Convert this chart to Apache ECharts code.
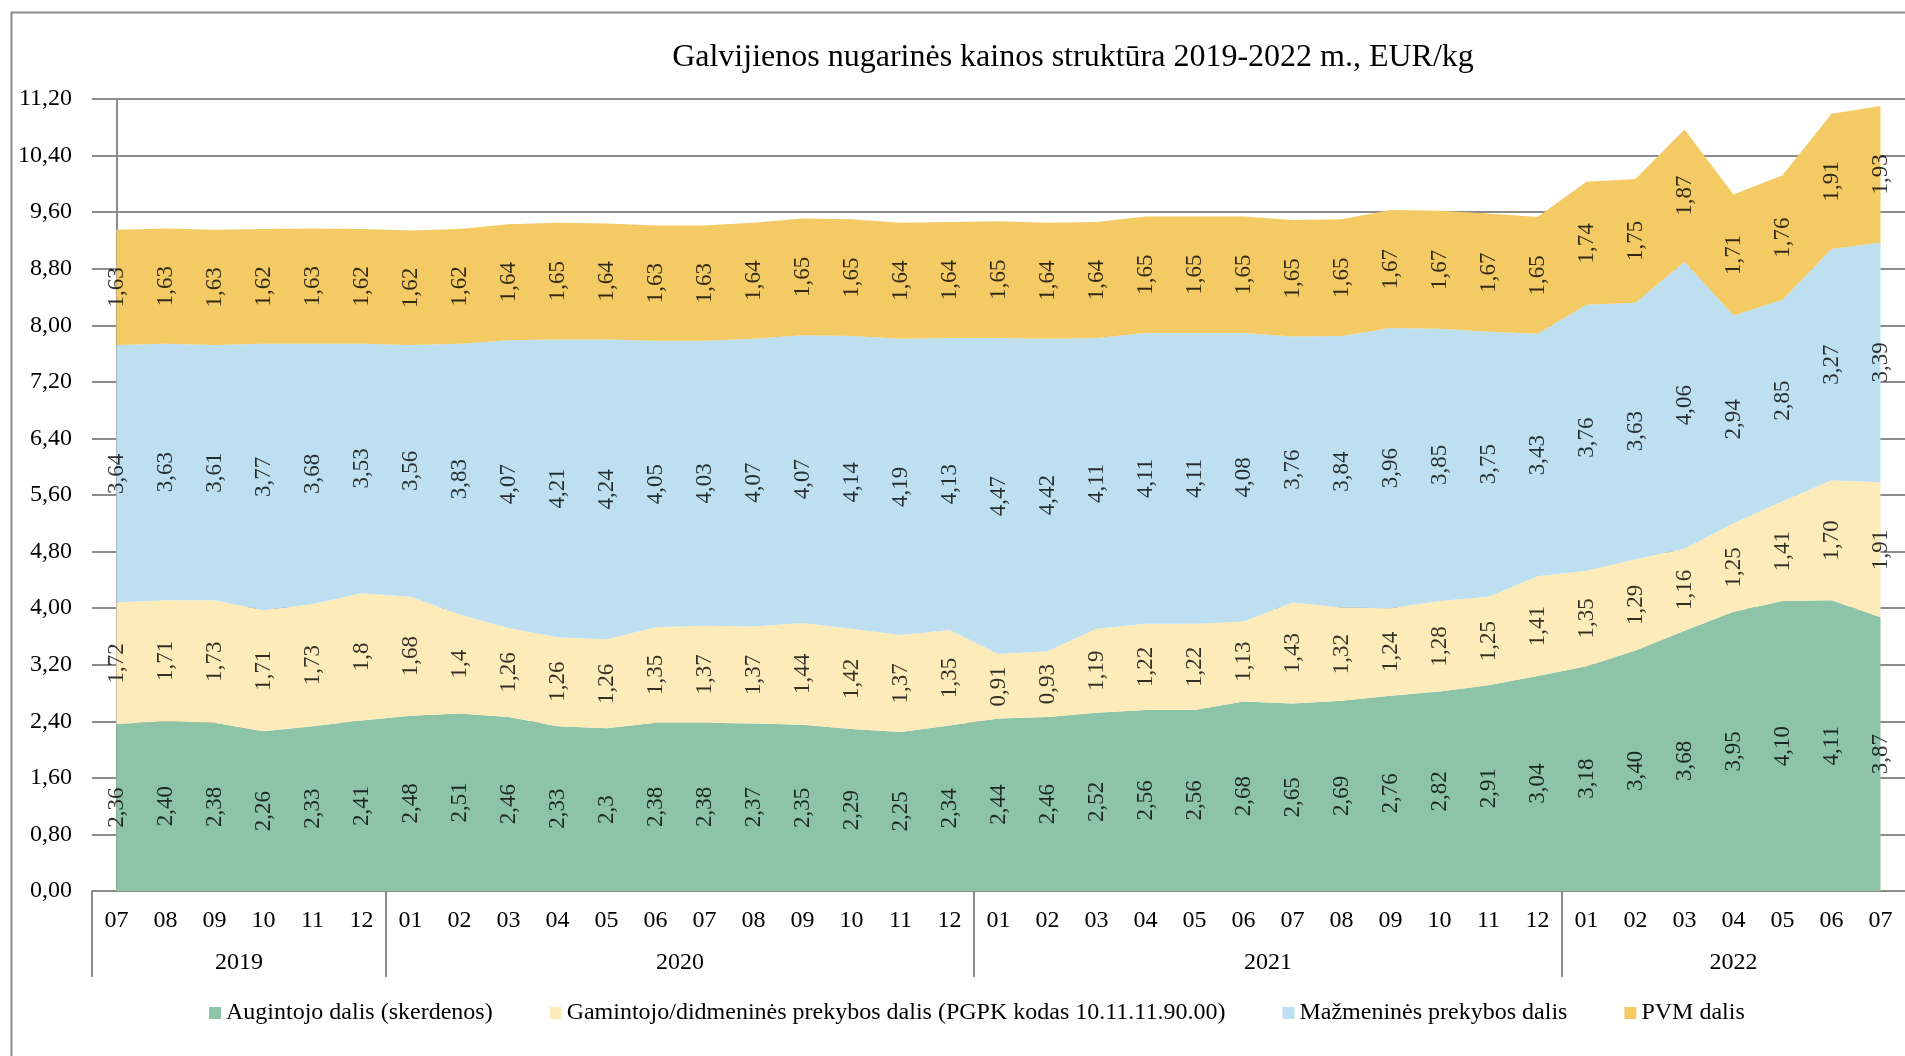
<!DOCTYPE html>
<html>
<head>
<meta charset="utf-8">
<script src="https://cdn.jsdelivr.net/npm/echarts@6/dist/echarts.min.js"></script>
<style>
html, body { margin: 0; padding: 0; background: #fff; }
#chart { width: 1905px; height: 1056px; }
</style>
</head>
<body>
<div id="chart"></div>
<script>
// months 2019-07 .. 2022-07
const months = [
  '07', '08', '09', '10', '11', '12',
  '01', '02', '03', '04', '05', '06', '07', '08', '09', '10', '11', '12',
  '01', '02', '03', '04', '05', '06', '07', '08', '09', '10', '11', '12',
  '01', '02', '03', '04', '05', '06', '07'
];
const years = ['2019', '2020', '2021', '2022'];
const yearFirstIndex = [0, 6, 18, 30];

// values kept as written in the chart (labels keep their precision)
const augintojo = [
  '2.36', '2.40', '2.38', '2.26', '2.33', '2.41',
  '2.48', '2.51', '2.46', '2.33', '2.3', '2.38', '2.38', '2.37', '2.35', '2.29', '2.25', '2.34',
  '2.44', '2.46', '2.52', '2.56', '2.56', '2.68', '2.65', '2.69', '2.76', '2.82', '2.91', '3.04',
  '3.18', '3.40', '3.68', '3.95', '4.10', '4.11', '3.87'
];
const gamintojo = [
  '1.72', '1.71', '1.73', '1.71', '1.73', '1.8',
  '1.68', '1.4', '1.26', '1.26', '1.26', '1.35', '1.37', '1.37', '1.44', '1.42', '1.37', '1.35',
  '0.91', '0.93', '1.19', '1.22', '1.22', '1.13', '1.43', '1.32', '1.24', '1.28', '1.25', '1.41',
  '1.35', '1.29', '1.16', '1.25', '1.41', '1.70', '1.91'
];
const mazmenine = [
  '3.64', '3.63', '3.61', '3.77', '3.68', '3.53',
  '3.56', '3.83', '4.07', '4.21', '4.24', '4.05', '4.03', '4.07', '4.07', '4.14', '4.19', '4.13',
  '4.47', '4.42', '4.11', '4.11', '4.11', '4.08', '3.76', '3.84', '3.96', '3.85', '3.75', '3.43',
  '3.76', '3.63', '4.06', '2.94', '2.85', '3.27', '3.39'
];
const pvm = [
  '1.63', '1.63', '1.63', '1.62', '1.63', '1.62',
  '1.62', '1.62', '1.64', '1.65', '1.64', '1.63', '1.63', '1.64', '1.65', '1.65', '1.64', '1.64',
  '1.65', '1.64', '1.64', '1.65', '1.65', '1.65', '1.65', '1.65', '1.67', '1.67', '1.67', '1.65',
  '1.74', '1.75', '1.87', '1.71', '1.76', '1.91', '1.93'
];

const seriesNames = [
  'Augintojo dalis (skerdenos)',
  'Gamintojo/didmeninės prekybos dalis (PGPK kodas 10.11.11.90.00)',
  'Mažmeninės prekybos dalis',
  'PVM dalis'
];
const colors = ['#8DC3A7', '#FDEBBA', '#BDDFEF', '#F3CA64'];

const FONT = '"Liberation Serif", "Times New Roman", serif';
const GRAY = '#8c8c8c';

const parts = [augintojo, gamintojo, mazmenine, pvm];
const nums = parts.map(p => p.map(Number));

const series = [];
nums.forEach((vals, k) => {
  series.push({
    name: seriesNames[k],
    type: 'line',
    stack: 'total',
    data: vals,
    symbol: 'none',
    lineStyle: { width: 0, opacity: 0 },
    itemStyle: { color: colors[k] },
    areaStyle: { color: colors[k], opacity: 1 },
    emphasis: { disabled: true },
    z: 2
  });
});

// labels sit in the middle of each band
nums.forEach((vals, k) => {
  series.push({
    type: 'scatter',
    name: 'lbl' + k,
    silent: true,
    symbolSize: 1,
    itemStyle: { color: 'rgba(0,0,0,0)' },
    data: vals.map((v, i) => {
      let base = 0;
      for (let j = 0; j < k; j++) base += nums[j][i];
      return [i, base + v / 2];
    }),
    label: {
      show: true,
      position: 'inside',
      rotate: 90,
      color: '#000',
      fontFamily: FONT,
      fontSize: 23,
      formatter: p => parts[k][p.dataIndex].replace('.', ',')
    },
    z: 5
  });
});

const yearCenters = yearFirstIndex.map((s, i) => {
  const e = i + 1 < yearFirstIndex.length ? yearFirstIndex[i + 1] - 1 : months.length - 1;
  return (s + e) / 2;
});

const option = {
  animation: false,
  backgroundColor: '#fff',
  textStyle: { fontFamily: FONT },
  title: {
    text: 'Galvijienos nugarinės kainos struktūra 2019-2022 m., EUR/kg',
    left: 1073,
    top: 42,
    padding: 0,
    textAlign: 'center',
    textStyle: { fontFamily: FONT, fontSize: 32, fontWeight: 'normal', color: '#000' }
  },
  graphic: [{
    type: 'rect',
    left: 9,
    top: 10,
    shape: { width: 2000, height: 2000 },
    style: { fill: 'none', stroke: GRAY, lineWidth: 2 },
    z: -1
  }],
  legend: {
    data: seriesNames,
    left: 204,
    top: 996,
    icon: 'rect',
    itemWidth: 12,
    itemHeight: 12,
    itemGap: 57,
    selectedMode: false,
    textStyle: { fontFamily: FONT, fontSize: 24, color: '#000' }
  },
  grid: { left: 92, top: 99, width: 1823, height: 792 },
  xAxis: [{
    type: 'category',
    data: months,
    boundaryGap: true,
    axisLine: { lineStyle: { color: GRAY, width: 2 } },
    axisTick: { show: false },
    axisLabel: { interval: 0, margin: 18, fontFamily: FONT, fontSize: 24, color: '#000' }
  }, {
    type: 'value',
    position: 'bottom',
    min: -0.5,
    max: months.length - 0.5,
    axisLine: { show: false },
    splitLine: { show: false },
    axisTick: {
      show: true,
      customValues: yearFirstIndex.map(s => s - 0.5),
      length: 86,
      lineStyle: { color: GRAY, width: 2 }
    },
    axisLabel: {
      customValues: yearCenters,
      margin: 60,
      fontFamily: FONT,
      fontSize: 24,
      color: '#000',
      formatter: v => years[yearCenters.indexOf(v)] || ''
    }
  }],
  yAxis: {
    type: 'value',
    min: 0,
    max: 11.2,
    interval: 0.8,
    axisLine: { show: true, lineStyle: { color: GRAY, width: 2 } },
    axisTick: { show: false },
    splitLine: { lineStyle: { color: GRAY, width: 2 } },
    axisLabel: {
      margin: 20,
      fontFamily: FONT,
      fontSize: 24,
      color: '#000',
      formatter: v => v.toFixed(2).replace('.', ',')
    }
  },
  series: series
};

const chart = echarts.init(document.getElementById('chart'));
chart.setOption(option);
</script>
</body>
</html>
